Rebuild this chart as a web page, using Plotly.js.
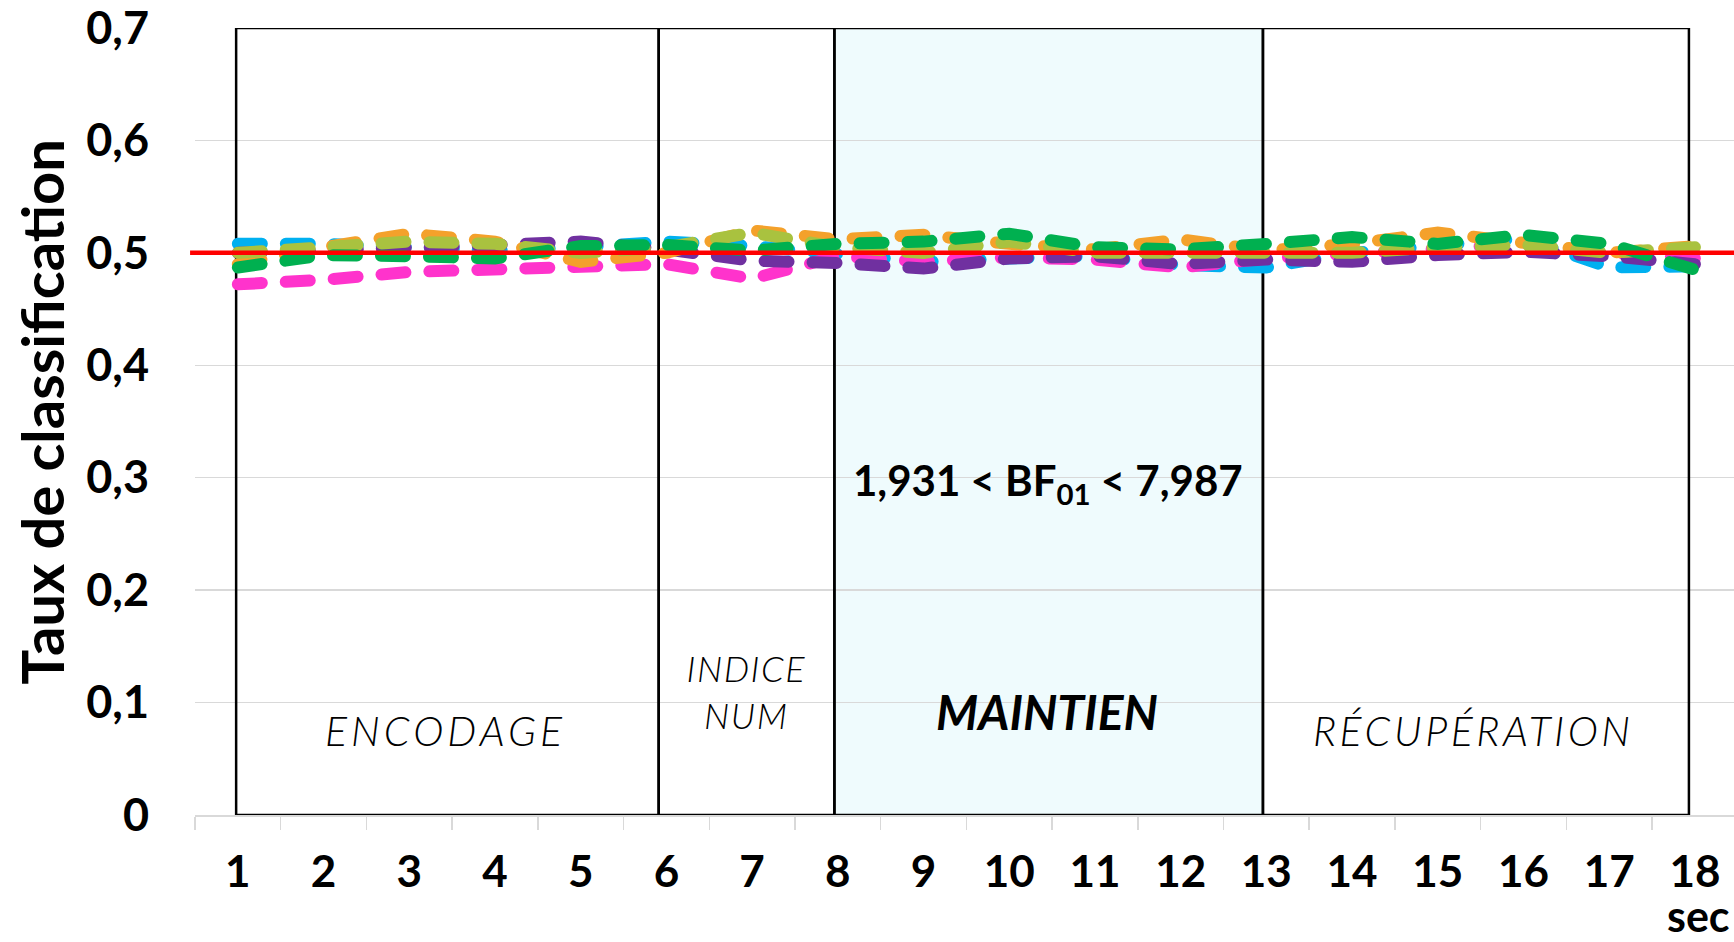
<!DOCTYPE html>
<html><head><meta charset="utf-8">
<script src="https://cdn.plot.ly/plotly-3.0.1.min.js"></script>
<style>
html,body{margin:0;padding:0;background:#fff;}
#chart{width:1734px;height:942px;}
.js-line{stroke-linecap:round !important;}
.annotation[data-index="0"] .annotation-text{letter-spacing:4px;}
.annotation[data-index="1"] .annotation-text{letter-spacing:1.5px;}
.annotation[data-index="3"] .annotation-text{letter-spacing:3.5px;}
</style></head><body><div id="chart"></div>
<script>
// ---- data ----
const seconds = [1,2,3,4,5,6,7,8,9,10,11,12,13,14,15,16,17,18];
const serieBleu   = [0.508,0.508,0.505,0.502,0.505,0.510,0.506,0.500,0.492,0.495,0.497,0.489,0.487,0.500,0.507,0.513,0.487,0.488];
const serieRose   = [0.472,0.476,0.483,0.485,0.487,0.490,0.477,0.497,0.492,0.496,0.494,0.487,0.495,0.500,0.503,0.508,0.500,0.495];
const serieViolet = [0.500,0.502,0.503,0.507,0.510,0.503,0.493,0.491,0.486,0.495,0.497,0.490,0.494,0.492,0.498,0.501,0.497,0.490];
const serieOrange = [0.490,0.505,0.517,0.510,0.492,0.500,0.520,0.512,0.516,0.508,0.503,0.512,0.502,0.508,0.518,0.510,0.500,0.506];
const serieOlive  = [0.500,0.505,0.510,0.508,0.500,0.505,0.518,0.505,0.500,0.510,0.500,0.500,0.500,0.500,0.505,0.507,0.500,0.505];
const serieVert   = [0.487,0.498,0.497,0.495,0.506,0.507,0.502,0.508,0.510,0.517,0.505,0.503,0.508,0.514,0.508,0.516,0.508,0.485];
const chance = 0.5;
const phaseBounds = [0.98, 5.91, 7.96, 12.96, 17.93];
const phaseNames = ['ENCODAGE', 'INDICE<br>NUM', 'MAINTIEN', 'RÉCUPÉRATION'];
const bfText = '1,931 < BF<sub>01</sub> < 7,987';
const yTicks = [0,0.1,0.2,0.3,0.4,0.5,0.6,0.7];

const FONT = 'Lato, "Noto Sans", sans-serif';
const series = [
  {y: serieBleu,   color: '#00B0F0'},
  {y: serieRose,   color: '#FF33CC'},
  {y: serieViolet, color: '#7030A0'},
  {y: serieOrange, color: '#F4A12B'},
  {y: serieOlive,  color: '#A9C23F'},
  {y: serieVert,   color: '#00B050'}
];
const traces = series.map(s => ({
  x: seconds, y: s.y, type: 'scatter', mode: 'lines',
  line: {color: s.color, width: 12, dash: '24px,24px'},
  hoverinfo: 'skip', showlegend: false
}));

const shapes = [];
shapes.push({type:'rect', xref:'x', yref:'y', x0: phaseBounds[2], x1: phaseBounds[3], y0: 0, y1: 0.7,
  fillcolor:'#EFFBFD', line:{width:0}, layer:'below'});
for (let i = 0; i < phaseNames.length; i++) {
  shapes.push({type:'rect', xref:'x', yref:'y', x0: phaseBounds[i], x1: phaseBounds[i+1], y0: 0, y1: 0.7,
    fillcolor:'rgba(0,0,0,0)', line:{color:'#000', width:2.5}, layer:'between'});
}
shapes.push({type:'line', xref:'paper', yref:'y', x0:-0.0032, x1:1, y0:chance, y1:chance,
  line:{color:'#FF0000', width:4.5}, layer:'above'});

const annotations = [
  {xref:'x', yref:'y', x:3.43, y:0.0756, text: phaseNames[0], showarrow:false, xanchor:'center',
   font:{family:FONT, size:41, color:'#000', style:'italic', weight:300}},
  {xref:'x', yref:'y', x:6.93, y:0.110, text: phaseNames[1], showarrow:false, xanchor:'center',
   font:{family:FONT, size:36, color:'#000', style:'italic', weight:300}},
  {xref:'x', yref:'y', x:10.44, y:0.0924, text: phaseNames[2], showarrow:false, xanchor:'center',
   font:{family:FONT, size:48, color:'#000', style:'italic', weight:700}},
  {xref:'x', yref:'y', x:15.42, y:0.0756, text: phaseNames[3], showarrow:false, xanchor:'center',
   font:{family:FONT, size:41, color:'#000', style:'italic', weight:300}},
  {xref:'x', yref:'y', x:10.45, y:0.295, text: bfText, showarrow:false, xanchor:'center',
   font:{family:FONT, size:42, color:'#000', weight:700}},
  {xref:'paper', yref:'paper', x:1, y:0, xanchor:'right', yanchor:'bottom', xshift:-3, yshift:-127, borderpad:0, text:'sec', showarrow:false,
   font:{family:FONT, size:43, color:'#000', weight:700}},
  {xref:'paper', yref:'paper', x:0, y:0.5, xanchor:'center', yanchor:'middle', xshift:-154, yshift:10, textangle:-90, text:'Taux de classification', showarrow:false,
   font:{family:FONT, size:58, color:'#000', weight:700}}
];

const layout = {
  width: 1734, height: 942,
  margin: {l:195, r:0, t:28, b:127},
  paper_bgcolor:'#fff', plot_bgcolor:'#fff',
  separators: ', ',
  showlegend: false,
  xaxis: {
    range: [0.5, 18.456], tickmode:'array', tickvals: seconds, ticktext: seconds.map(String),
    ticks:'', showgrid:false, zeroline:false, showline:true, linecolor:'#d9d9d9', linewidth:1.5,
    tickfont:{family:FONT, size:44, color:'#000', weight:700}, ticklabelstandoff: 18,
    ticklabeloverflow:'allow',
    minor:{tickmode:'array', tickvals: seconds.map(s => s - 0.5).concat([18.5]), ticks:'outside', ticklen:13, tickcolor:'#d9d9d9', tickwidth:1.5, showgrid:false},
    automargin:false, fixedrange:true
  },
  yaxis: {
    range: [0, 0.7], tickmode:'array', tickvals: yTicks, ticks:'', showgrid:true, gridcolor:'#d9d9d9', gridwidth:1.5,
    zeroline:false, showline:false,
    tickfont:{family:FONT, size:45, color:'#000', weight:700}, ticklabelstandoff: 45,
    ticklabeloverflow:'allow',
    automargin:false, fixedrange:true
  },
  shapes: shapes,
  annotations: annotations
};
Plotly.newPlot('chart', traces, layout, {displayModeBar:false, staticPlot:true});
</script></body></html>
